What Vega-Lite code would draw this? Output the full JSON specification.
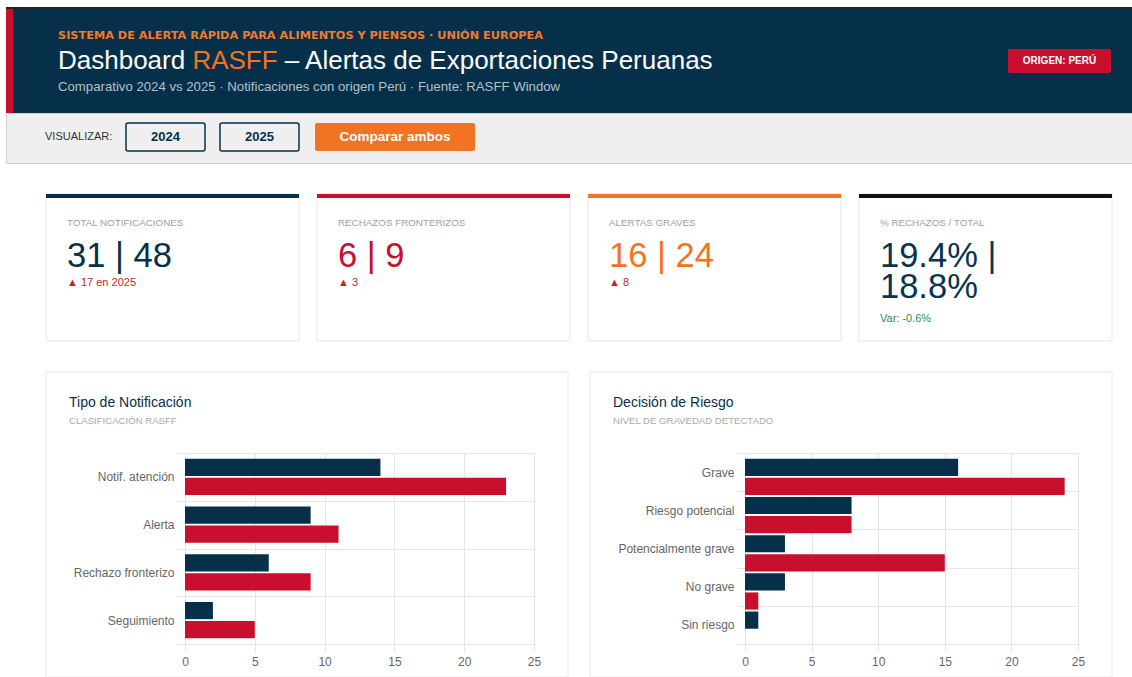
{
  "$schema": "https://vega.github.io/schema/vega-lite/v6.json",
  "background": "#ffffff",
  "padding": {"left": 5, "top": 7, "right": 0, "bottom": 0},
  "bounds": "flush",
  "spacing": 0,
  "resolve": {"scale": {"x": "independent", "y": "independent", "color": "independent", "fill": "independent"}},
  "config": {
    "font": "Liberation Sans",
    "view": {"stroke": null},
    "axis": {"gridColor": "#e6e6e6", "tickColor": "#e6e6e6", "tickSize": 8, "domain": false, "labelColor": "#666666", "labelFontSize": 12, "labelFont": "Liberation Sans"}
  },
  "datasets": {
    "kpis": [
      {"id": "total", "label": "TOTAL NOTIFICACIONES", "value": "31 | 48", "delta": "▲ 17 en 2025"},
      {"id": "rech", "label": "RECHAZOS FRONTERIZOS", "value": "6 | 9", "delta": "▲ 3"},
      {"id": "grav", "label": "ALERTAS GRAVES", "value": "16 | 24", "delta": "▲ 8"},
      {"id": "pct", "label": "% RECHAZOS / TOTAL", "value": "19.4% |\n18.8%", "delta": "Var: -0.6%"}
    ],
    "panels": [
      {"panel": "Tipo de Notificación", "sub": "CLASIFICACIÓN RASFF"},
      {"panel": "Decisión de Riesgo", "sub": "NIVEL DE GRAVEDAD DETECTADO"}
    ],
    "tipo": [
      {"cat": "Notif. atención", "year": "2024", "n": 14},
      {"cat": "Notif. atención", "year": "2025", "n": 23},
      {"cat": "Alerta", "year": "2024", "n": 9},
      {"cat": "Alerta", "year": "2025", "n": 11},
      {"cat": "Rechazo fronterizo", "year": "2024", "n": 6},
      {"cat": "Rechazo fronterizo", "year": "2025", "n": 9},
      {"cat": "Seguimiento", "year": "2024", "n": 2},
      {"cat": "Seguimiento", "year": "2025", "n": 5}
    ],
    "riesgo": [
      {"cat": "Grave", "year": "2024", "n": 16},
      {"cat": "Grave", "year": "2025", "n": 24},
      {"cat": "Riesgo potencial", "year": "2024", "n": 8},
      {"cat": "Riesgo potencial", "year": "2025", "n": 8},
      {"cat": "Potencialmente grave", "year": "2024", "n": 3},
      {"cat": "Potencialmente grave", "year": "2025", "n": 15},
      {"cat": "No grave", "year": "2024", "n": 3},
      {"cat": "No grave", "year": "2025", "n": 1},
      {"cat": "Sin riesgo", "year": "2024", "n": 1},
      {"cat": "Sin riesgo", "year": "2025", "n": 0}
    ]
  },
  "vconcat": [
    {
      "width": 1127, "height": 106,
      "view": {"fill": "#06304a", "stroke": null},
      "data": {"values": [{"k": "SISTEMA DE ALERTA RÁPIDA PARA ALIMENTOS Y PIENSOS · UNIÓN EUROPEA", "t1": "Dashboard", "t2": "RASFF", "t3": "– Alertas de Exportaciones Peruanas", "s": "Comparativo 2024 vs 2025 · Notificaciones con origen Perú · Fuente: RASFF Window", "b": "ORIGEN: PERÚ"}]},
      "layer": [
        {"mark": {"type": "rect", "x": 0, "x2": 1127, "y": 0, "y2": 2, "fill": "#1e2328"}, "encoding": {}},
        {"mark": {"type": "rect", "x": 0, "x2": 7, "y": 2, "y2": 106, "fill": "#c8102e"}, "encoding": {}},
        {"mark": {"type": "text", "x": 52, "y": 29, "align": "left", "baseline": "middle", "font": "DejaVu Sans", "fontSize": 11.3, "fontWeight": "bold", "fill": "#f07a30"}, "encoding": {"text": {"field": "k"}}},
        {"mark": {"type": "text", "x": 52, "y": 62, "align": "left", "baseline": "alphabetic", "fontSize": 26, "fill": "#ffffff"}, "encoding": {"text": {"field": "t1"}}},
        {"mark": {"type": "text", "x": 186.4, "y": 62, "align": "left", "baseline": "alphabetic", "fontSize": 26, "fill": "#f07422"}, "encoding": {"text": {"field": "t2"}}},
        {"mark": {"type": "text", "x": 278.8, "y": 62, "align": "left", "baseline": "alphabetic", "fontSize": 26, "fill": "#ffffff"}, "encoding": {"text": {"field": "t3"}}},
        {"mark": {"type": "text", "x": 52, "y": 80, "align": "left", "baseline": "middle", "fontSize": 13.2, "fill": "#b4c0ca"}, "encoding": {"text": {"field": "s"}}},
        {"mark": {"type": "rect", "x": 1002, "x2": 1105, "y": 42, "y2": 66, "fill": "#c8102e", "cornerRadius": 2}, "encoding": {}},
        {"mark": {"type": "text", "x": 1053.5, "y": 54, "align": "center", "baseline": "middle", "fontSize": 10, "fontWeight": "bold", "fill": "#ffffff"}, "encoding": {"text": {"field": "b"}}}
      ]
    },
    {
      "width": 1127, "height": 50,
      "view": {"fill": "#efefef", "stroke": "#cfcfcf"},
      "data": {"values": [{"v": "VISUALIZAR:", "a": "2024", "b": "2025", "c": "Comparar ambos"}]},
      "layer": [
        {"mark": {"type": "text", "x": 39, "y": 24, "align": "left", "baseline": "middle", "fontSize": 11, "fill": "#333333"}, "encoding": {"text": {"field": "v"}}},
        {"mark": {"type": "rect", "x": 120, "x2": 199, "y": 10, "y2": 38, "fill": "#efefef", "stroke": "#06304a", "strokeWidth": 1.5, "cornerRadius": 2}, "encoding": {}},
        {"mark": {"type": "rect", "x": 214, "x2": 293, "y": 10, "y2": 38, "fill": "#efefef", "stroke": "#06304a", "strokeWidth": 1.5, "cornerRadius": 2}, "encoding": {}},
        {"mark": {"type": "rect", "x": 309, "x2": 469, "y": 10, "y2": 38, "fill": "#f07422", "cornerRadius": 2}, "encoding": {}},
        {"mark": {"type": "text", "x": 159.5, "y": 24, "align": "center", "baseline": "middle", "fontSize": 13, "fontWeight": "bold", "fill": "#06304a"}, "encoding": {"text": {"field": "a"}}},
        {"mark": {"type": "text", "x": 253.5, "y": 24, "align": "center", "baseline": "middle", "fontSize": 13, "fontWeight": "bold", "fill": "#06304a"}, "encoding": {"text": {"field": "b"}}},
        {"mark": {"type": "text", "x": 389, "y": 24, "align": "center", "baseline": "middle", "fontSize": 13.5, "fontWeight": "bold", "fill": "#ffffff"}, "encoding": {"text": {"field": "c"}}}
      ]
    },
    {"width": 1127, "height": 31, "data": {"values": []}, "mark": "point", "encoding": {}},
    {
      "width": 1127, "height": 147,
      "data": {"name": "kpis"},
      "encoding": {
        "x": {"field": "id", "type": "nominal", "sort": null, "scale": {"range": [40, 1106], "paddingInner": 0.0664, "paddingOuter": 0}, "axis": null}
      },
      "layer": [
        {"mark": {"type": "rect", "fill": "#ffffff", "stroke": "#e6e6e6", "strokeWidth": 1}},
        {"mark": {"type": "rect", "y": 0, "y2": 4}, "encoding": {"fill": {"field": "id", "type": "nominal", "sort": null, "scale": {"domain": ["total", "rech", "grav", "pct"], "range": ["#06304a", "#c8102e", "#f07422", "#111111"]}, "legend": null}}},
        {"mark": {"type": "text", "align": "left", "dx": 21, "y": 29, "baseline": "middle", "fontSize": 9.8, "fill": "#a0a0a0"}, "encoding": {"x": {"field": "id", "type": "nominal", "sort": null, "bandPosition": 0}, "text": {"field": "label"}}},
        {"mark": {"type": "text", "align": "left", "dx": 21, "y": 72.5, "baseline": "alphabetic", "fontSize": 34.5, "lineBreak": "\n", "lineHeight": 31}, "encoding": {"x": {"field": "id", "type": "nominal", "sort": null, "bandPosition": 0}, "text": {"field": "value"}, "color": {"field": "id", "type": "nominal", "sort": null, "scale": {"domain": ["total", "rech", "grav", "pct"], "range": ["#06304a", "#c8102e", "#f07422", "#0a3350"]}, "legend": null}}},
        {"transform": [{"filter": "datum.id != 'pct'"}], "mark": {"type": "text", "align": "left", "dx": 21, "y": 89, "baseline": "middle", "fontSize": 11, "fill": "#c0282d"}, "encoding": {"x": {"field": "id", "type": "nominal", "sort": null, "bandPosition": 0}, "text": {"field": "delta"}}},
        {"transform": [{"filter": "datum.id == 'pct'"}], "mark": {"type": "text", "align": "left", "dx": 21, "y": 125, "baseline": "middle", "fontSize": 11, "fill": "#2e8b57"}, "encoding": {"x": {"field": "id", "type": "nominal", "sort": null, "bandPosition": 0}, "text": {"field": "delta"}}}
      ]
    },
    {
      "width": 1127, "height": 112,
      "data": {"name": "panels"},
      "encoding": {
        "x": {"field": "panel", "type": "nominal", "sort": null, "scale": {"range": [40, 1106], "paddingInner": 0.04044, "paddingOuter": 0}, "axis": null}
      },
      "layer": [
        {"mark": {"type": "rect", "y": 31, "y2": 336, "fill": "#ffffff", "stroke": "#e8e8e8", "strokeWidth": 1}},
        {"mark": {"type": "text", "align": "left", "dx": 23, "y": 62, "baseline": "middle", "fontSize": 14, "fill": "#06304a"}, "encoding": {"x": {"field": "panel", "type": "nominal", "sort": null, "bandPosition": 0}, "text": {"field": "panel"}}},
        {"mark": {"type": "text", "align": "left", "dx": 23, "y": 80, "baseline": "middle", "fontSize": 9.6, "fill": "#aaaaaa"}, "encoding": {"x": {"field": "panel", "type": "nominal", "sort": null, "bandPosition": 0}, "text": {"field": "sub"}}}
      ]
    },
    {
      "hconcat": [
        {"width": 179, "height": 191, "data": {"values": []}, "mark": "point", "encoding": {}},
        {
          "width": 349, "height": 191,
          "data": {"name": "tipo"},
          "mark": {"type": "bar"},
          "encoding": {
            "y": {"field": "cat", "type": "nominal", "title": null, "sort": ["Notif. atención", "Alerta", "Rechazo fronterizo", "Seguimiento"], "scale": {"paddingInner": 0, "paddingOuter": 0}, "axis": {"grid": true, "tickBand": "extent", "labelPadding": 3}},
            "yOffset": {"field": "year", "type": "nominal", "scale": {"paddingInner": 0.1, "paddingOuter": 0.3}},
            "x": {"field": "n", "type": "quantitative", "title": null, "scale": {"domain": [0, 25]}, "axis": {"values": [0, 5, 10, 15, 20, 25], "labelFlush": false, "labelPadding": 4}},
            "color": {"field": "year", "type": "nominal", "scale": {"domain": ["2024", "2025"], "range": ["#06304a", "#c8102e"]}, "legend": null}
          }
        },
        {"width": 211, "height": 191, "data": {"values": []}, "mark": "point", "encoding": {}},
        {
          "width": 333, "height": 191,
          "data": {"name": "riesgo"},
          "mark": {"type": "bar"},
          "encoding": {
            "y": {"field": "cat", "type": "nominal", "title": null, "sort": ["Grave", "Riesgo potencial", "Potencialmente grave", "No grave", "Sin riesgo"], "scale": {"paddingInner": 0, "paddingOuter": 0}, "axis": {"grid": true, "tickBand": "extent", "labelPadding": 3}},
            "yOffset": {"field": "year", "type": "nominal", "scale": {"paddingInner": 0.1, "paddingOuter": 0.3}},
            "x": {"field": "n", "type": "quantitative", "title": null, "scale": {"domain": [0, 25]}, "axis": {"values": [0, 5, 10, 15, 20, 25], "labelFlush": false, "labelPadding": 4}},
            "color": {"field": "year", "type": "nominal", "scale": {"domain": ["2024", "2025"], "range": ["#06304a", "#c8102e"]}, "legend": null}
          }
        }
      ],
      "spacing": 0,
      "bounds": "flush",
      "resolve": {"scale": {"x": "independent", "y": "independent", "color": "independent"}}
    }
  ]
}
